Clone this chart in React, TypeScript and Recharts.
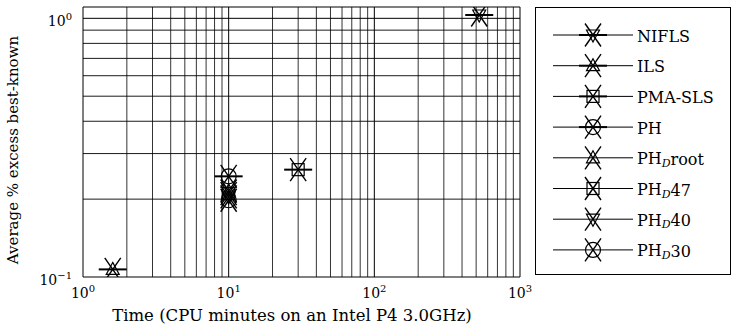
import React from 'react';
import { ScatterChart, Scatter, XAxis, YAxis, ReferenceLine, Legend } from 'recharts';

const seriesNames = ['NIFLS', 'ILS', 'PMA-SLS', 'PH', 'PH_Droot', 'PH_D47', 'PH_D40', 'PH_D30'];
const cpuMinutes = [525, 1.6, 30, 10, 10, 10, 10, 10];
const avgExcess = [1.03, 0.107, 0.26, 0.245, 0.215, 0.21, 0.204, 0.198];

const xTicks = [1, 10, 100, 1000];
const yTicks = [0.1, 1];
const xMinor = [2, 3, 4, 5, 6, 7, 8, 9, 20, 30, 40, 50, 60, 70, 80, 90, 200, 300, 400, 500, 600, 700, 800, 900];
const yMinor = [0.2, 0.3, 0.4, 0.5, 0.6, 0.7, 0.8, 0.9];

// marker look per series: [inner shape, has horizontal bar]
const markerStyle: Record<string, [string, boolean]> = {
  NIFLS: ['triDown', true],
  ILS: ['triUp', true],
  'PMA-SLS': ['square', true],
  PH: ['circle', true],
  PH_Droot: ['triUp', false],
  PH_D47: ['square', false],
  PH_D40: ['triDown', false],
  PH_D30: ['circle', false],
};

const FONT = '"DejaVu Serif", "Liberation Serif", serif';
const Y_TOP = 1.106;

function Marker({ cx, cy, name }: { cx: number; cy: number; name: string }) {
  const [kind, bar] = markerStyle[name];
  return (
    <g stroke="#000" fill="none">
      {bar && <line x1={cx - 14} x2={cx + 14} y1={cy} y2={cy} strokeWidth={2} />}
      <line x1={cx - 8} y1={cy - 11.5} x2={cx + 8} y2={cy + 11.5} strokeWidth={1.4} />
      <line x1={cx + 8} y1={cy - 11.5} x2={cx - 8} y2={cy + 11.5} strokeWidth={1.4} />
      {kind === 'circle' && <circle cx={cx} cy={cy} r={7.5} strokeWidth={1.2} />}
      {kind === 'square' && <rect x={cx - 6} y={cy - 6} width={12} height={12} strokeWidth={1.2} />}
      {kind === 'triUp' && (
        <polygon points={`${cx},${cy - 7} ${cx + 6.5},${cy + 5} ${cx - 6.5},${cy + 5}`} strokeWidth={1.2} />
      )}
      {kind === 'triDown' && (
        <polygon points={`${cx},${cy + 7} ${cx + 6.5},${cy - 5} ${cx - 6.5},${cy - 5}`} strokeWidth={1.2} />
      )}
    </g>
  );
}

function SeriesLabel({ name, x, y }: { name: string; x: number; y: number }) {
  if (name.startsWith('PH_D')) {
    return (
      <text x={x} y={y} fontFamily={FONT} fontSize={16} dominantBaseline="central">
        PH
        <tspan dy={4} fontSize={11} fontStyle="italic">D</tspan>
        <tspan dy={-4}>{name.slice(4)}</tspan>
      </text>
    );
  }
  return (
    <text x={x} y={y} fontFamily={FONT} fontSize={16} dominantBaseline="central">
      {name}
    </text>
  );
}

function PowerTick({ x, y, payload, axis }: any) {
  const exp = Math.round(Math.log10(payload.value));
  if (axis === 'x') {
    return (
      <text x={x} y={y + 13} textAnchor="middle" fontFamily={FONT} fontSize={14} fill="#000">
        10<tspan dy={-6} fontSize={10}>{exp}</tspan>
      </text>
    );
  }
  return (
    <text x={x - 3} y={y + 8} textAnchor="end" fontFamily={FONT} fontSize={14} fill="#000">
      10<tspan dy={-6} fontSize={10}>{exp === 0 ? '0' : '\u2212' + Math.abs(exp)}</tspan>
    </text>
  );
}

function LegendBox() {
  return (
    <div style={{ marginLeft: 15, width: 196, height: 268, border: '1px solid #000', boxSizing: 'border-box', background: '#fff' }}>
      <svg width={194} height={266}>
        {seriesNames.map((n, i) => {
          const y = 27 + i * 30.7;
          return (
            <g key={n}>
              <line x1={17} x2={97} y1={y} y2={y} stroke="#000" strokeWidth={1} />
              <Marker cx={57} cy={y} name={n} />
              <SeriesLabel name={n} x={101} y={y + 1} />
            </g>
          );
        })}
      </svg>
    </div>
  );
}

export default function App() {
  return (
    <div style={{ width: 735, height: 330, background: '#fff' }}>
      <style>{'body{margin:0}'}</style>
      <ScatterChart width={735} height={330} margin={{ top: 7, right: 4, bottom: 0, left: 0 }}>
        <XAxis
          dataKey="x"
          type="number"
          scale="log"
          domain={[1, 1000]}
          ticks={xTicks}
          allowDataOverflow
          height={53}
          tickLine={false}
          axisLine={{ stroke: '#000' }}
          tick={<PowerTick axis="x" />}
          label={{
            content: () => (
              <text x={292} y={321} textAnchor="middle" fontFamily={FONT} fontSize={16.5} fill="#000">
                Time (CPU minutes on an Intel P4 3.0GHz)
              </text>
            ),
          }}
        />
        <YAxis
          dataKey="y"
          type="number"
          scale="log"
          domain={[0.1, Y_TOP]}
          ticks={yTicks}
          allowDataOverflow
          width={83}
          tickLine={false}
          axisLine={{ stroke: '#000' }}
          tick={<PowerTick axis="y" />}
          label={{
            content: () => (
              <text
                x={13}
                y={150}
                transform="rotate(-90 13 150)"
                textAnchor="middle"
                dominantBaseline="central"
                fontFamily={FONT}
                fontSize={15}
                fill="#000"
              >
                Average % excess best-known
              </text>
            ),
          }}
        />
        {xMinor.map((v) => (
          <ReferenceLine key={'xm' + v} x={v} stroke="#000" strokeWidth={0.8} />
        ))}
        {yMinor.map((v) => (
          <ReferenceLine key={'ym' + v} y={v} stroke="#000" strokeWidth={0.9} />
        ))}
        <ReferenceLine x={10} stroke="#000" strokeWidth={1} />
        <ReferenceLine x={100} stroke="#000" strokeWidth={1} />
        <ReferenceLine x={1000} stroke="#000" strokeWidth={1} />
        <ReferenceLine y={1} stroke="#000" strokeWidth={1} />
        <ReferenceLine y={Y_TOP} stroke="#000" strokeWidth={1} />
        <Legend
          layout="vertical"
          align="right"
          verticalAlign="top"
          wrapperStyle={{ width: 211 }}
          content={() => <LegendBox />}
        />
        {seriesNames.map((n, i) => (
          <Scatter
            key={n}
            name={n}
            data={[{ x: cpuMinutes[i], y: avgExcess[i] }]}
            isAnimationActive={false}
            shape={(p: any) => <Marker cx={p.cx} cy={p.cy} name={n} />}
          />
        ))}
      </ScatterChart>
    </div>
  );
}
